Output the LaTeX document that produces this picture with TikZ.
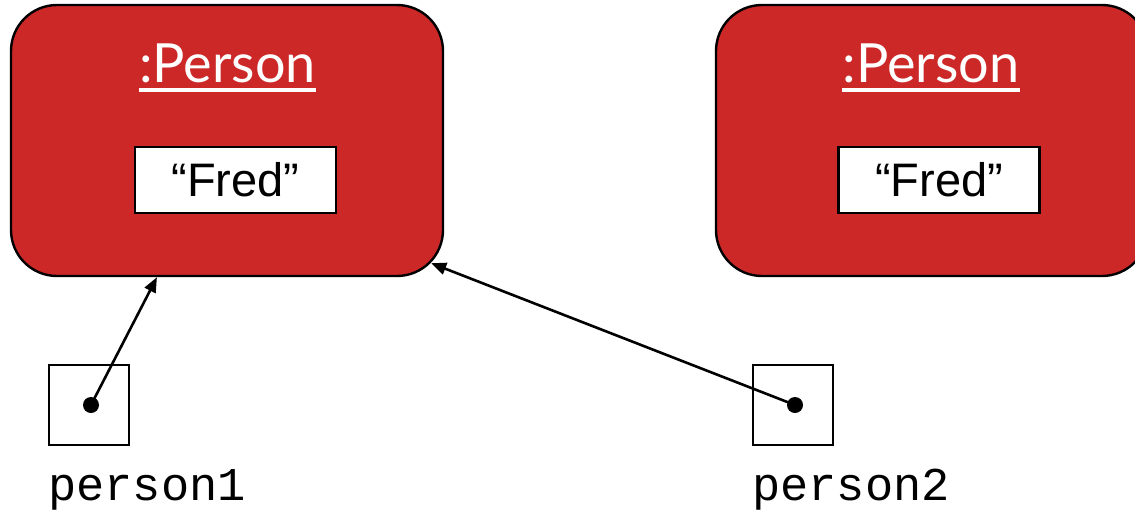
\documentclass[tikz,border=0pt]{standalone}
\usepackage{fontspec}
\setmainfont{Liberation Sans}
\newfontfamily\personfont{Lato}
\newfontfamily\codefont{Liberation Mono}
\usetikzlibrary{arrows.meta}
\definecolor{objred}{RGB}{204,40,40}
\tikzset{
  x=1pt, y=-1pt,
  objbox/.style={draw=black, line width=2.4pt, fill=objred, rounded corners=46pt,
    minimum width=432pt, minimum height=271pt, inner sep=0pt},
  classlabel/.style={anchor=base, inner sep=0pt, text=white, font=\personfont\fontsize{54}{60}\selectfont},
  valbox/.style={draw=black, line width=2.4pt, fill=white, minimum width=201pt, minimum height=66pt,
    inner sep=0pt, font=\fontsize{47}{50}\selectfont},
  varbox/.style={draw=black, line width=2pt, fill=white, minimum width=80pt, minimum height=80pt, inner sep=0pt},
  refdot/.style={circle, fill=black, minimum size=16pt, inner sep=0pt},
  varname/.style={anchor=base west, inner sep=0pt, font=\codefont\fontsize{47}{50}\selectfont},
  ref/.style={line width=2.6pt, -{Triangle[length=15pt,width=12pt]}}
}
\begin{document}
\begin{tikzpicture}
\useasboundingbox (0,0) rectangle (1135,512);
% objects
\node[objbox] (obj1) at (227,140.5) {};
\node[objbox] (obj2) at (932,140.5) {};
% class labels
\node[classlabel] (cls1) at (227.5,82) {:Person};
\node[classlabel] (cls2) at (931,82) {:Person};
\draw[white, line width=3.5pt] ([yshift=-8pt]cls1.base west) -- ([yshift=-8pt]cls1.base east);
\draw[white, line width=3.5pt] ([yshift=-8pt]cls2.base west) -- ([yshift=-8pt]cls2.base east);
% value boxes
\node[valbox] (val1) at (235.5,180) {``Fred''};
\node[valbox] (val2) at (939,180) {``Fred''};
% variables
\node[varbox] (var1) at (88.5,405) {};
\node[varbox] (var2) at (792.5,405) {};
\node[refdot] (dot1) at (91,405) {};
\node[refdot] (dot2) at (795,405) {};
\node[varname] (name1) at (48,500) {person1};
\node[varname] (name2) at (752,500) {person2};
% references
\coordinate (tip2) at ([shift={(-13pt,14pt)}]obj1.south east);
\draw[ref] (dot1.center) -- (obj1);
\draw[ref] (dot2.center) -- (tip2);
\end{tikzpicture}
\end{document}
